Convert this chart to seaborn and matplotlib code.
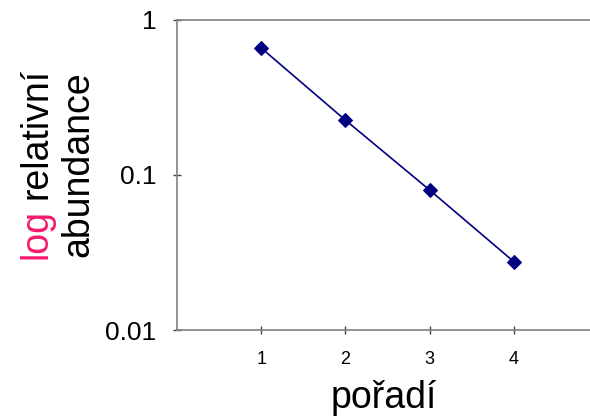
import seaborn as sns
import pandas as pd
import matplotlib
matplotlib.use('Agg')
import matplotlib.pyplot as plt

# data
rank = [1, 2, 3, 4]
abundance = [0.66, 0.226, 0.080, 0.0276]
y_ticks = [0.01, 0.1, 1]
y_tick_labels = ['0.01', '0.1', '1']

W, H = 590, 417
DPI = 100

sns.set_style('white')
plt.rcParams['font.family'] = ['Liberation Sans', 'DejaVu Sans']
plt.rcParams['text.color'] = 'black'
plt.rcParams['xtick.color'] = 'black'
plt.rcParams['ytick.color'] = 'black'
plt.rcParams['axes.labelcolor'] = 'black'

df = pd.DataFrame({'pořadí': rank, 'abundance': abundance})

fig = plt.figure(figsize=(W / DPI, H / DPI), dpi=DPI)
ax = fig.add_axes([177 / W, 1 - 330 / H, (W - 177) / W, (330 - 20) / H])

sns.lineplot(data=df, x='pořadí', y='abundance', ax=ax,
             color='#000080', marker='D', markersize=7,
             markeredgecolor='#000080', linewidth=1.2)

ax.set_yscale('log')
ax.set_ylim(0.01, 1)
ax.set_xlim(0, (W - 177) / 84.2)
ax.set_yticks(y_ticks)
ax.set_yticklabels(y_tick_labels)
ax.minorticks_off()
ax.set_xticks(rank)
ax.set_xticklabels([str(r) for r in rank])

for side in ['left', 'bottom', 'top']:
    ax.spines[side].set_color('#808080')
    ax.spines[side].set_linewidth(1.2)
ax.spines['right'].set_visible(False)

ax.tick_params(axis='y', direction='inout', length=6, width=1, color='#404040',
               labelcolor='black', labelsize=19, pad=12, left=True)
ax.tick_params(axis='x', direction='inout', length=6, width=1, color='#404040',
               labelcolor='black', labelsize=13, pad=12, bottom=True)

ax.set_xlabel('pořadí', fontsize=27, labelpad=9, color='black')
ax.set_ylabel('')

# two-line y label, "log" in pink
fs = 27
fig.canvas.draw()
renderer = fig.canvas.get_renderer()
t1 = fig.text(47 / W, 1 - 259 / H, 'log', color='#F5196E', fontsize=fs,
              rotation=90, rotation_mode='anchor', ha='left', va='baseline')
bb = t1.get_window_extent(renderer)
gap = 0.278 * fs * DPI / 72
fig.text(47 / W, (bb.y1 + gap) / H, 'relativní', color='black', fontsize=fs,
         rotation=90, rotation_mode='anchor', ha='left', va='baseline')
fig.text(88 / W, 1 - 257 / H, 'abundance', color='black', fontsize=fs,
         rotation=90, rotation_mode='anchor', ha='left', va='baseline')

fig.savefig('out.png', dpi=DPI)
